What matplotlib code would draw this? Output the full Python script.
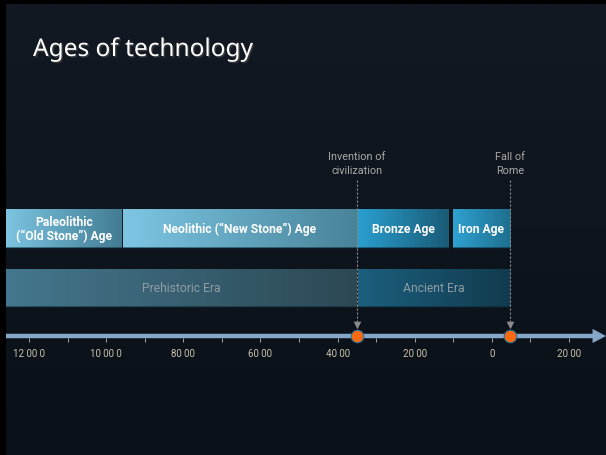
import numpy as np
import matplotlib.pyplot as plt
from matplotlib.colors import LinearSegmentedColormap
from matplotlib import patheffects as pe

# ages (top row of blocks)
ages = ["Paleolithic\n(\u201cOld Stone\u201d) Age", "Neolithic (\u201cNew Stone\u201d) Age",
        "Bronze Age", "Iron Age"]
age_start = [-12600, -9570, -3470, -1020]
age_end = [-9600, -3500, -1120, 476]

# eras (second row)
eras = ["Prehistoric Era", "Ancient Era"]
era_start = [-12600, -3470]
era_end = [-3500, 476]

# events on the time line
events = ["Invention of\ncivilization", "Fall of\nRome"]
event_years = [-3500, 476]

tick_years = [-12000, -10000, -8000, -6000, -4000, -2000, 0, 2000]
tick_labels = ["12 00 0", "10 00 0", "80 00", "60 00", "40 00", "20 00", "0", "20 00"]
minor_years = list(range(-12000, 2001, 1000))

age_colors = [("#7cc4e1", "#427c93"), ("#7dc6e3", "#48839a"),
              ("#2a9fd0", "#1a5b76"), ("#2ea2d1", "#1f6f8f")]
era_colors = [("#44778e", "#2c4854"), ("#1c5f7e", "#123b4e")]

fig = plt.figure(figsize=(6.06, 4.56), dpi=100, facecolor="black")
ax = fig.add_axes([6 / 606, 0, 600 / 606, 451 / 456])
x0, x1 = -12600, 2960
ax.set_axis_off()

# background
bg = LinearSegmentedColormap.from_list("bg", ["#121922", "#0e151d", "#0a1017"])
ax.imshow(np.linspace(0, 1, 200).reshape(-1, 1), cmap=bg, aspect="auto",
          extent=(x0, x1, 456, 5), zorder=0)


def grad_block(s, e, ytop, ybot, c1, c2):
    cm = LinearSegmentedColormap.from_list("g", [c1, c2])
    ax.imshow(np.linspace(0, 1, 256).reshape(1, -1), cmap=cm, aspect="auto",
              extent=(s, e, ybot, ytop), zorder=2)
    ax.plot([s, e], [ybot - 0.5, ybot - 0.5], color="#0c2430", lw=1.2, alpha=0.6,
            solid_capstyle="butt", zorder=3)


for i, name in enumerate(ages):
    s, e = age_start[i], age_end[i]
    grad_block(s, e, 210, 249, *age_colors[i])
    ax.text((s + e) / 2, 229.5, name, ha="center", va="center", color="white",
            fontsize=8.7, fontweight="bold", family="Roboto", linespacing=1.05, zorder=4)

for i, name in enumerate(eras):
    s, e = era_start[i], era_end[i]
    grad_block(s, e, 270, 308, *era_colors[i])
    ax.text((s + e) / 2, 289, name, ha="center", va="center", color="#8f9ca6",
            fontsize=8.7, family="Roboto", zorder=4)

# time line with arrow
ax.plot([x0, x1 - 300], [337, 337], color="#85a7c9", lw=3.2, solid_capstyle="butt", zorder=3)
ax.annotate("", xy=(x1, 337), xytext=(x1 - 400, 337),
            arrowprops=dict(arrowstyle="-|>,head_length=0.95,head_width=0.5",
                            mutation_scale=10, color="#85a7c9", lw=0.1,
                            shrinkA=0, shrinkB=0), zorder=3)
ax.vlines(minor_years, 339, 342.5, color="#9aa4ae", lw=0.7, zorder=3)
for yr, lab in zip(tick_years, tick_labels):
    ax.text(yr, 354, lab, ha="center", va="center", color="#c9c2ae",
            fontsize=7, family="Roboto", zorder=4)

# events
ax.vlines(event_years, 181, 326, color="#8b8b8b", lw=0.8,
          linestyles=(0, (2, 1.6)), zorder=5)
ax.scatter(event_years, [326] * len(event_years), marker="v", s=30,
           color="#8b8b8b", linewidths=0, zorder=5)
ax.scatter(event_years, [337] * len(event_years), s=80, color="#fb6a10",
           edgecolors="#2d7190", linewidths=0.8, zorder=6)
for yr, name in zip(event_years, events):
    ax.text(yr, 164, name, ha="center", va="center", color="#a9a9a9",
            fontsize=7.8, family="Roboto", linespacing=1.6, zorder=5)

ax.set_xlim(x0, x1)
ax.set_ylim(456, 5)

fig.text(33 / 606, 1 - 51 / 456, "Ages of technology", ha="left", va="center",
         color="white", fontsize=17.6, family="Noto Sans", fontweight="medium",
         path_effects=[pe.withSimplePatchShadow(offset=(1, -1), alpha=0.6)])

fig.savefig("out.png", dpi=100, facecolor="black")
